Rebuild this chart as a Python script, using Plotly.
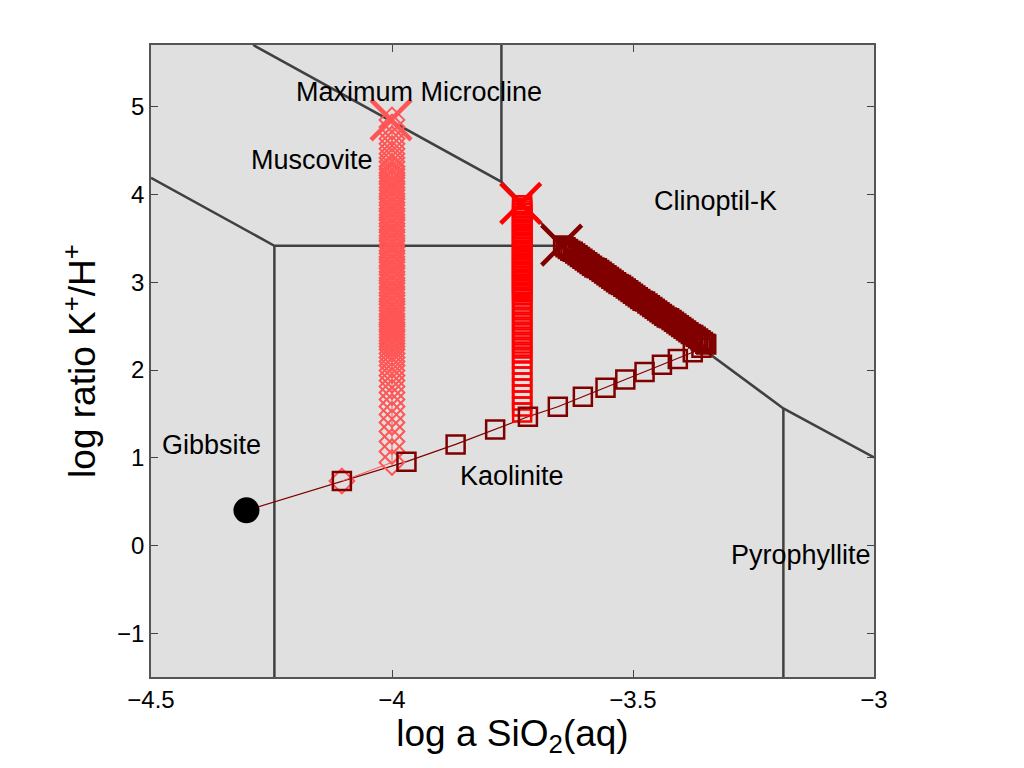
import plotly.graph_objects as go

# phase boundaries (log a SiO2, log K+/H+), None splits segments
bound_x = [-4.288, -3.773, -3.645, -3.188, -3.0, None,
           -3.773, -3.773, None,
           -4.5, -4.244, -3.645, None,
           -4.244, -4.244, None,
           -3.188, -3.188]
bound_y = [5.706, 4.146, 3.417, 1.562, 1.004, None,
           4.146, 5.706, None,
           4.192, 3.417, 3.417, None,
           3.417, -1.5, None,
           1.562, -1.5]

region_names = ['Maximum Microcline', 'Muscovite', 'Clinoptil-K', 'Gibbsite', 'Kaolinite', 'Pyrophyllite']
region_x = [-3.943, -4.166, -3.329, -4.374, -3.751, -3.152]
region_y = [5.171, 4.40, 3.93, 1.15, 0.787, -0.112]

# starting fluid
start_x = [-4.302]
start_y = [0.400]

# reaction path along the straight line (dark red)
path_x = [-4.104, -3.970, -3.868, -3.786, -3.718, -3.656, -3.604, -3.557, -3.516,
          -3.476, -3.440, -3.407, -3.376, -3.358, -3.348]
path_y = [0.734, 0.955, 1.152, 1.322, 1.467, 1.581, 1.695, 1.797, 1.892,
          1.979, 2.059, 2.127, 2.203, 2.253, 2.290]

# dark red path along the Clinoptil-K / Kaolinite boundary
band_x = [-3.350, -3.355, -3.360, -3.365, -3.370, -3.375, -3.380, -3.385, -3.390, -3.395,
          -3.400, -3.405, -3.410, -3.415, -3.420, -3.425, -3.430, -3.435, -3.440, -3.445,
          -3.450, -3.455, -3.460, -3.465, -3.470, -3.475, -3.480, -3.485, -3.490, -3.495,
          -3.500, -3.505, -3.510, -3.515, -3.520, -3.525, -3.530, -3.535, -3.540, -3.545,
          -3.550, -3.555, -3.560, -3.565, -3.570, -3.575, -3.580, -3.585, -3.590, -3.595,
          -3.600, -3.605, -3.610, -3.615, -3.620, -3.625, -3.630, -3.635, -3.640, -3.645]
band_y = [2.30, 2.32, 2.34, 2.36, 2.38, 2.40, 2.41, 2.43, 2.45, 2.47,
          2.49, 2.51, 2.53, 2.55, 2.57, 2.59, 2.60, 2.62, 2.64, 2.66,
          2.68, 2.70, 2.72, 2.74, 2.76, 2.78, 2.79, 2.81, 2.83, 2.85,
          2.87, 2.89, 2.91, 2.93, 2.95, 2.97, 2.98, 3.00, 3.02, 3.04,
          3.06, 3.08, 3.10, 3.12, 3.14, 3.16, 3.17, 3.19, 3.21, 3.23,
          3.25, 3.27, 3.29, 3.31, 3.33, 3.35, 3.36, 3.38, 3.40, 3.42]
dark_end = (-3.648, 3.425)

# pink diamonds
pink_start = (-4.104, 0.734)
pink_col_x = -4.0
pink_y = [0.947, 1.072, 1.186, 1.300, 1.402, 1.493, 1.584, 1.664, 1.744, 1.812,
          1.881, 1.938, 1.995, 2.052, 2.097, 2.143, 2.188, 2.234, 2.268, 2.302,
          2.336, 2.370, 2.405, 2.439, 2.461, 2.495, 2.518, 2.541, 2.575,
          2.61, 2.64, 2.68, 2.71, 2.75, 2.78, 2.81, 2.85, 2.88, 2.92,
          2.95, 2.99, 3.02, 3.05, 3.09, 3.12, 3.16, 3.19, 3.23, 3.26,
          3.29, 3.33, 3.36, 3.40, 3.43, 3.47, 3.50, 3.53, 3.57, 3.60,
          3.64, 3.67, 3.71, 3.74, 3.77, 3.81, 3.84, 3.88, 3.91, 3.95,
          3.98, 4.01, 4.05, 4.08, 4.12, 4.15, 4.19, 4.22, 4.25, 4.29, 4.32,
          4.374, 4.419, 4.465, 4.522, 4.579, 4.636, 4.704, 4.772, 4.852]
pink_end = (-4.002, 4.852)

# red squares
red_col_x = -3.73
red_y = [1.516, 1.584, 1.652, 1.721, 1.789, 1.857, 1.926, 1.994, 2.062, 2.131,
         2.188, 2.245, 2.302, 2.359, 2.416, 2.473, 2.530, 2.587, 2.644, 2.701,
         2.758, 2.815, 2.860,
         2.89, 2.92, 2.95, 2.98, 3.01, 3.04, 3.07, 3.10, 3.13, 3.16,
         3.19, 3.22, 3.25, 3.28, 3.31, 3.34, 3.37, 3.40, 3.43, 3.46,
         3.49, 3.52, 3.55, 3.58, 3.61, 3.64, 3.67, 3.70, 3.73, 3.76,
         3.79, 3.82, 3.85, 3.88]
red_end = (-3.733, 3.90)

pink = '#FF5555'
red = '#FF0000'
dark = '#800000'
font = 'Arial, Liberation Sans, Helvetica, sans-serif'

fig = go.Figure()

fig.add_trace(go.Scatter(x=bound_x, y=bound_y, mode='lines',
                         line=dict(color='#404040', width=2.5), hoverinfo='skip'))

fig.add_trace(go.Scatter(x=start_x + path_x, y=start_y + path_y, mode='lines',
                         line=dict(color=dark, width=1.2)))

fig.add_trace(go.Scatter(x=[pink_start[0]] + [pink_col_x] * len(pink_y),
                         y=[pink_start[1]] + pink_y, mode='lines+markers',
                         line=dict(color=pink, width=1),
                         marker=dict(symbol='diamond-open', size=19, color=pink,
                                     line=dict(width=2, color=pink))))
fig.add_trace(go.Scatter(x=[pink_end[0]], y=[pink_end[1]], mode='markers',
                         marker=dict(symbol='x-thin', size=40, color=pink,
                                     line=dict(width=4.5, color=pink))))

fig.add_trace(go.Scatter(x=[red_col_x] * len(red_y), y=red_y, mode='markers',
                         marker=dict(symbol='square-open', size=18, color=red,
                                     line=dict(width=2.5, color=red))))
fig.add_trace(go.Scatter(x=[red_end[0]], y=[red_end[1]], mode='markers',
                         marker=dict(symbol='x-thin', size=40, color=red,
                                     line=dict(width=4.5, color=red))))

fig.add_trace(go.Scatter(x=path_x + band_x, y=path_y + band_y, mode='markers',
                         marker=dict(symbol='square-open', size=18, color=dark,
                                     line=dict(width=2.5, color=dark))))
fig.add_trace(go.Scatter(x=[dark_end[0]], y=[dark_end[1]], mode='markers',
                         marker=dict(symbol='x-thin', size=40, color=dark,
                                     line=dict(width=4.5, color=dark))))

fig.add_trace(go.Scatter(x=start_x, y=start_y, mode='markers',
                         marker=dict(symbol='circle', size=26, color='black')))

for name, x, y in zip(region_names, region_x, region_y):
    fig.add_annotation(x=x, y=y, text=name, showarrow=False,
                       xanchor='center', yanchor='middle',
                       font=dict(family=font, size=27, color='black'))

fig.update_layout(
    width=1024, height=768,
    margin=dict(l=151, r=150, t=45, b=91),
    paper_bgcolor='white', plot_bgcolor='#E0E0E0',
    showlegend=False,
    font=dict(family=font, color='black'),
)
fig.update_xaxes(range=[-4.5, -3.0], tickvals=[-4.5, -4, -3.5, -3],
                 ticks='inside', ticklen=7, tickcolor='#444',
                 showline=True, linecolor='#555', linewidth=1.5, mirror='ticks',
                 showgrid=False, zeroline=False,
                 tickfont=dict(size=24),
                 title=dict(text='log a SiO<sub>2</sub>(aq)', font=dict(size=37), standoff=4))
fig.update_yaxes(range=[-1.5, 5.706], tickvals=[-1, 0, 1, 2, 3, 4, 5],
                 ticks='inside', ticklen=7, tickcolor='#444',
                 showline=True, linecolor='#555', linewidth=1.5, mirror='ticks',
                 showgrid=False, zeroline=False,
                 tickfont=dict(size=24),
                 title=dict(text='log ratio K<sup>+</sup>/H<sup>+</sup>', font=dict(size=37), standoff=10))

fig.write_html("out.html", config={'displayModeBar': False},
               post_script="document.body.style.margin='0';")
